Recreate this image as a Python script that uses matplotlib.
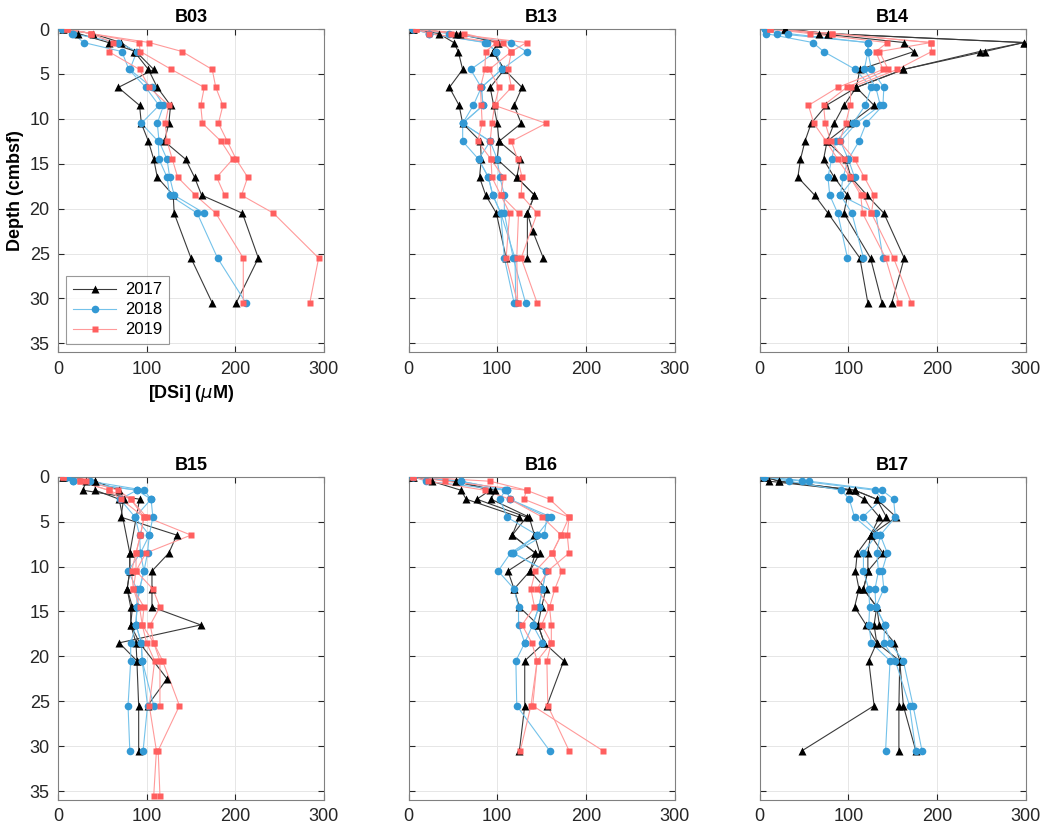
import numpy as np
import matplotlib.pyplot as plt

plt.rcParams['font.family'] = ['Liberation Sans', 'DejaVu Sans']

nan = np.nan

# sampling depths (cmbsf)
depth = [0, 0.5, 1.5, 2.5, 4.5, 6.5, 8.5, 10.5, 12.5, 14.5, 16.5, 18.5, 20.5, 22.5, 25.5, 30.5, 35.5]

# [DSi] (uM), one list per core, aligned with depth
b03_2017 = [[6, 23, 57, 88, 108, 68, 92, 94, 102, 108, 112, 130, 131, nan, 150, 174, nan],
            [6, 39, 71, 86, 102, 112, 127, 125, 120, 144, 154, 162, 208, nan, 226, 201, nan]]
b03_2018 = [[4, 17, 29, 72, 80, 99, 114, 94, 113, 114, 123, 126, 157, nan, 180, 212, nan],
            [4, 16, 68, 89, 81, 106, 119, 112, 114, 123, 126, 131, 165, nan, nan, nan, nan]]
b03_2019 = [[10, 37, 62, 57, 92, 103, 125, 121, 123, 129, 135, 155, 178, nan, 209, 209, nan],
            [10, 37, 91, 93, 128, 165, 161, 163, 184, 197, 179, 188, nan, nan, nan, nan, nan],
            [10, 37, 103, 140, 174, 178, 186, 181, 191, 201, 214, 207, 243, nan, 294, 284, nan]]

b13_2017 = [[5, 34, 51, 56, 61, 46, 57, 61, 81, 82, 80, 87, 99, nan, 110, nan, nan],
            [5, 54, 101, 95, 108, 92, 96, 100, 102, 100, 122, 142, 134, nan, 134, nan, nan],
            [5, 58, 101, 95, 108, 128, 119, 127, 102, 126, 122, 142, 134, 140, 152, nan, nan]]
b13_2018 = [[5, 23, 86, 99, 70, 82, 73, 61, 61, 79, 90, 95, 104, nan, 108, 119, nan],
            [5, 46, 116, 133, 105, 82, 84, 61, 92, 100, 103, 108, 108, nan, 118, 132, nan],
            [5, 23, 88, 99, 105, 82, 84, 61, 92, 79, 90, 95, 104, nan, 120, 121, nan]]
b13_2019 = [[8, 23, 99, 87, 86, 81, 82, 83, 78, 93, 94, 104, 114, nan, 110, 123, nan],
            [8, 63, 106, 116, 91, 102, 97, 94, 92, 93, 107, 104, 124, nan, 122, 123, nan],
            [8, 48, 133, 116, 112, 116, 97, 155, 116, 123, 128, 127, 145, nan, 127, 145, nan]]

b14_2017 = [[29, 67, 163, 174, 113, 109, 75, 58, 51, 46, 43, 62, 77, nan, 113, 122, nan],
            [29, 77, 298, 254, 162, 109, 95, 84, 76, 72, 84, 99, 95, nan, 125, 138, nan],
            [29, 77, 298, 248, 162, 109, 129, 102, 76, 97, 103, 121, 140, nan, 163, 149, nan]]
b14_2018 = [[6, 7, 60, 72, 108, 126, 119, 105, 86, 81, 77, 79, 88, nan, 99, nan, nan],
            [6, 20, 122, 122, 118, 131, 136, 109, 91, 100, 94, 91, 104, nan, 117, nan, nan],
            [6, 32, 122, 122, 126, 140, 139, 120, 112, 100, 107, 91, 131, nan, 139, nan, nan]]
b14_2019 = [[12, 57, 144, 131, 139, 88, 55, 61, 75, 88, 102, 114, 116, nan, 142, 157, nan],
            [12, 82, 193, 135, 145, 98, 72, 74, 80, 95, 102, 117, 126, nan, 151, 171, nan],
            [12, 82, 193, 194, 155, 103, 102, 97, 90, 107, 118, 129, 126, nan, nan, nan, nan]]

b15_2017 = [[6, 42, 69, 74, 71, 134, 125, 106, 106, 106, 161, 69, 89, nan, 91, 91, nan],
            [6, 32, 28, 92, nan, nan, 81, 81, 78, 84, 82, 92, nan, 123, 101, nan, nan],
            [6, 42, 42, 69, nan, nan, 81, 81, 78, 82, 82, 88, 89, nan, nan, nan, nan]]
b15_2018 = [[10, 17, 89, 70, 87, 92, 93, 79, 89, 89, 88, 82, 82, nan, 79, 81, nan],
            [10, 36, 97, 105, 107, 103, 101, 97, 92, 89, 88, 94, 95, nan, 101, 96, nan],
            [10, 17, 89, 105, 87, 103, 93, 97, 92, 89, 88, 94, 95, nan, 108, nan, nan]]
b15_2019 = [[6, 25, 57, 71, 97, 93, 88, 83, 85, 92, 95, 100, 109, nan, 103, 111, 108],
            [6, 32, 68, 82, 100, 150, 99, 88, 107, 115, 104, 108, 118, nan, 137, 113, 115],
            [6, 25, 57, 82, 97, 93, 88, 88, 85, 97, 95, 108, 115, nan, 115, nan, nan]]

b16_2017 = [[5, 26, 59, 65, 125, 117, 143, 112, 119, 125, 146, 153, 131, nan, 131, 125, nan],
            [5, 53, 98, 93, 136, 142, 148, 137, 155, 150, 146, 153, 175, nan, 156, nan, nan],
            [5, 53, 92, 77, 133, 117, 143, 137, 119, nan, nan, nan, nan, nan, nan, nan, nan]]
b16_2018 = [[5, 20, 109, 103, 111, 145, 115, 101, 119, 124, 124, 131, 121, nan, 122, 159, nan],
            [5, 59, 111, 114, 156, 153, 118, 155, 151, 147, 140, 151, nan, nan, nan, nan, nan],
            [5, 59, 111, 114, 161, 145, 118, 155, 151, 147, 140, 131, nan, nan, nan, nan, nan]]
b16_2019 = [[5, 22, 86, 114, 151, 172, 162, 143, 138, 142, 128, 139, 145, nan, 138, 126, nan],
            [5, 41, 133, 130, 181, 179, 181, 157, 145, 159, 150, 161, 156, nan, 157, 181, nan],
            [5, 92, 133, 159, 181, 172, 162, 173, 165, 159, 161, 161, 145, nan, 140, 219, nan]]

b17_2017 = [[5, 11, 101, 118, 135, 125, 110, 108, 112, 107, 120, 132, 123, nan, 129, 48, nan],
            [5, 22, 107, 132, 143, 125, 122, 122, 117, 132, 129, 132, 158, nan, 157, 157, nan],
            [5, 22, 107, 132, 154, 125, 139, 122, 117, 132, 135, 152, 158, nan, 162, 176, nan]]
b17_2018 = [[5, 33, 92, 101, 107, 131, 117, 117, 123, 124, 123, 126, 147, nan, nan, 142, nan],
            [5, 48, 130, 138, 116, 136, 132, 134, 130, 131, 141, 140, 153, nan, 169, 176, nan],
            [5, 56, 138, 151, 153, 136, 144, 138, 140, 131, 141, 147, 162, nan, 173, 183, nan]]
b17_2019 = []

sites = ['B03', 'B13', 'B14', 'B15', 'B16', 'B17']
years = ['2017', '2018', '2019']
site_data = {
    'B03': [b03_2017, b03_2018, b03_2019],
    'B13': [b13_2017, b13_2018, b13_2019],
    'B14': [b14_2017, b14_2018, b14_2019],
    'B15': [b15_2017, b15_2018, b15_2019],
    'B16': [b16_2017, b16_2018, b16_2019],
    'B17': [b17_2017, b17_2018, b17_2019],
}

markers = ['^', 'o', 's']
mcolors = ['#000000', '#3399d4', '#ff5f5f']
lcolors = ['#3a3a3a', '#74c2ea', '#ff9a9a']
msizes = [6, 5.5, 5]

fig = plt.figure(figsize=(10.45, 8.31), dpi=100)
lefts = [0.0555, 0.391, 0.727]
bottoms = [0.576, 0.0373]
w, h = 0.2545, 0.389
dep = np.array(depth)

for i, site in enumerate(sites):
    ax = fig.add_axes([lefts[i % 3], bottoms[i // 3], w, h])
    for k, year in enumerate(years):
        for j, core in enumerate(site_data[site][k]):
            v = np.array(core, dtype=float)
            ok = np.isfinite(v)
            ax.plot(v[ok], dep[ok], '-', color=lcolors[k], lw=0.8, zorder=2)
            ax.plot(v[ok], dep[ok], linestyle='none', marker=markers[k],
                    color=mcolors[k], ms=msizes[k], mec='none', zorder=3,
                    label=year if j == 0 else None)
    ax.set_xlim(0, 300)
    ax.set_ylim(36, 0)
    ax.set_xticks([0, 100, 200, 300])
    ax.set_yticks(np.arange(0, 36, 5))
    ax.grid(True, color='#e6e6e6', lw=0.7, zorder=0)
    ax.set_axisbelow(True)
    ax.tick_params(direction='in', length=4, top=True, right=True,
                   labelsize=13, colors='#262626', pad=6)
    for s in ax.spines.values():
        s.set_color('#808080')
        s.set_linewidth(0.8)
    ax.set_title(site, fontsize=13, fontweight='bold', pad=5)
    if i % 3 != 0:
        ax.set_yticklabels([])
    if i == 0:
        ax.set_ylabel('Depth (cmbsf)', fontsize=13, fontweight='bold', labelpad=4)
        ax.set_xlabel(r'[DSi] ($\mu$M)', fontsize=13, fontweight='bold', labelpad=4)
        handles = []
        for k, year in enumerate(years):
            hnd, = ax.plot([], [], '-', color=lcolors[k], lw=0.8, marker=markers[k],
                           mfc=mcolors[k], mec='none', ms=msizes[k], label=year)
            handles.append(hnd)
        leg = ax.legend(handles=handles, loc='lower left', fontsize=12,
                        fancybox=False, edgecolor='#808080', handlelength=2.6,
                        borderaxespad=0.5, labelspacing=0.3, handletextpad=0.5)
        leg.get_frame().set_linewidth(0.8)

fig.savefig('out.png', dpi=100)
